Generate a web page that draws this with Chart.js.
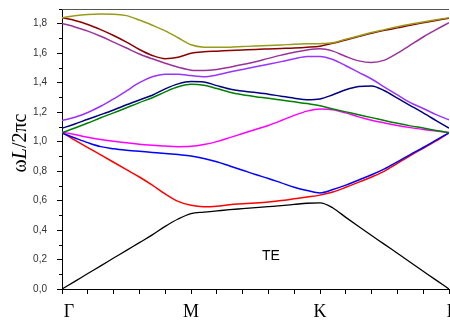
<!DOCTYPE html>
<html><head><meta charset="utf-8">
<script src="https://cdn.jsdelivr.net/npm/chart.js@4/dist/chart.umd.min.js"></script>
<style>html,body{margin:0;padding:0;background:#fff}canvas{display:block}</style>
</head><body>
<canvas id="c" width="450" height="323"></canvas>
<script>
// k-path positions (Γ=0, M=1, K=2, Γ=3)
const kPath = [0,0.1,0.2,0.3,0.4,0.5,0.6,0.7,0.8,0.9,1.0,1.1,1.2,1.3,1.4,1.5,1.6,1.7,1.8,1.9,2.0,2.1,2.2,2.3,2.4,2.5,2.6,2.7,2.8,2.9,3.0];
const symmetryPoints = [0,1,2,3];
const symmetryLabels = ['Γ','M','K','Γ'];
const yTickStep = 0.2;
const yMin = 0, yMax = 1.9;

// band frequencies ωL/2πc
const band1 = [0,0.052,0.105,0.157,0.21,0.262,0.315,0.367,0.425,0.475,0.512,0.522,0.53,0.538,0.545,0.552,0.559,0.566,0.574,0.582,0.584,0.55,0.486,0.424,0.363,0.303,0.242,0.182,0.121,0.06,0];
const band2 = [1.065,1.01,0.96,0.91,0.86,0.81,0.76,0.705,0.645,0.595,0.568,0.558,0.562,0.572,0.578,0.584,0.591,0.6,0.612,0.624,0.637,0.658,0.69,0.725,0.76,0.80,0.853,0.905,0.955,1.005,1.06];
const band3 = [1.058,1.025,0.993,0.966,0.952,0.942,0.934,0.927,0.92,0.912,0.903,0.886,0.864,0.835,0.806,0.777,0.75,0.72,0.69,0.668,0.652,0.675,0.705,0.74,0.775,0.815,0.863,0.912,0.96,1.01,1.06];
const band4 = [1.065,1.048,1.03,1.015,1.003,0.992,0.983,0.976,0.97,0.966,0.968,0.98,1.0,1.027,1.055,1.082,1.11,1.143,1.178,1.207,1.221,1.216,1.195,1.168,1.145,1.127,1.11,1.095,1.083,1.072,1.062];
const band5 = [1.06,1.092,1.126,1.162,1.195,1.23,1.265,1.298,1.338,1.372,1.39,1.383,1.36,1.335,1.318,1.305,1.294,1.282,1.27,1.258,1.243,1.222,1.202,1.182,1.163,1.143,1.124,1.107,1.092,1.076,1.06];
const band6 = [1.09,1.12,1.152,1.183,1.215,1.25,1.283,1.315,1.358,1.392,1.408,1.405,1.38,1.357,1.343,1.333,1.322,1.308,1.295,1.285,1.29,1.318,1.352,1.374,1.378,1.345,1.295,1.245,1.195,1.143,1.091];
const band7 = [1.143,1.165,1.198,1.24,1.29,1.345,1.4,1.44,1.458,1.458,1.448,1.44,1.452,1.472,1.49,1.508,1.525,1.543,1.562,1.577,1.578,1.557,1.515,1.47,1.425,1.37,1.317,1.265,1.225,1.183,1.148];
const band8 = [1.802,1.778,1.75,1.715,1.675,1.635,1.595,1.562,1.532,1.505,1.485,1.482,1.489,1.505,1.523,1.542,1.565,1.587,1.607,1.622,1.63,1.614,1.578,1.548,1.537,1.553,1.6,1.655,1.71,1.76,1.807];
const band9 = [1.841,1.822,1.795,1.76,1.72,1.675,1.625,1.585,1.563,1.572,1.6,1.61,1.614,1.618,1.622,1.626,1.629,1.632,1.635,1.64,1.648,1.668,1.69,1.713,1.735,1.755,1.772,1.79,1.806,1.822,1.838];
const band10 = [1.841,1.855,1.863,1.866,1.865,1.855,1.825,1.79,1.752,1.705,1.657,1.641,1.64,1.641,1.645,1.649,1.652,1.656,1.661,1.664,1.665,1.671,1.695,1.717,1.74,1.76,1.78,1.797,1.812,1.827,1.841];
const polarization = 'TE';

const toXY = arr => arr.map((v,i)=>({x:kPath[i], y:v}));
const mk = (arr, color, w) => ({data: toXY(arr), borderColor: color, borderWidth: w || 1.5, pointRadius: 0, fill: false, cubicInterpolationMode: 'monotone'});

const decor = {
  id: 'decor',
  afterDraw(chart){
    const {ctx, chartArea: a, scales: {x, y}} = chart;
    ctx.save();
    ctx.lineWidth = 1;
    ctx.strokeStyle = '#555';
    ctx.beginPath(); ctx.moveTo(a.left, Math.round(a.top)+0.5); ctx.lineTo(a.right, Math.round(a.top)+0.5); ctx.stroke();
    ctx.strokeStyle = '#000';
    for (let v = yTickStep/2; v < yMax; v += yTickStep){
      const py = Math.round(y.getPixelForValue(v)) + 0.5;
      ctx.beginPath(); ctx.moveTo(a.left-3, py); ctx.lineTo(a.left, py); ctx.stroke();
    }
    ctx.fillStyle = '#000';
    ctx.font = '18px "Liberation Serif"';
    ctx.textAlign = 'center'; ctx.textBaseline = 'alphabetic';
    const offs = [7, 0, 0, 3];
    symmetryPoints.forEach((p,i)=>ctx.fillText(symmetryLabels[i], x.getPixelForValue(p)+offs[i], 317));
    ctx.font = '14px "Liberation Sans"'; ctx.textAlign = 'left';
    ctx.fillText(polarization, x.getPixelForValue(1.55), y.getPixelForValue(0.2));
    // y title with italic L
    const parts = [['ω','20px "Liberation Serif"'],['L','italic 20px "Liberation Serif"'],['/2πc','20px "Liberation Serif"']];
    let tot = 0; parts.forEach(p=>{ctx.font=p[1]; tot += ctx.measureText(p[0]).width;});
    ctx.translate(26, 143); ctx.rotate(-Math.PI/2);
    ctx.textAlign = 'left';
    let cx = -tot/2;
    parts.forEach(p=>{ctx.font=p[1]; ctx.fillText(p[0], cx, 0); cx += ctx.measureText(p[0]).width;});
    ctx.restore();
  }
};

new Chart(document.getElementById('c'), {
  type: 'line',
  data: { datasets: [
    mk(band10, '#9a9a1a'),
    mk(band9, '#8b0000'),
    mk(band8, '#993399'),
    mk(band7, '#9933ff'),
    mk(band6, '#000080'),
    mk(band5, '#008000'),
    mk(band4, '#ff00ff'),
    mk(band3, '#0000ff'),
    mk(band2, '#ff0000'),
    mk(band1, '#000000', 1.3)
  ]},
  options: {
    responsive: false, animation: false,
    layout: { padding: { top: 9, right: 1, left: 0, bottom: 0 } },
    plugins: { legend: { display: false }, tooltip: { enabled: false } },
    scales: {
      x: {
        type: 'linear', min: 0, max: 3,
        grid: { display: true, drawOnChartArea: false, drawTicks: true, tickLength: 5, color: '#000' },
        border: { display: true, color: '#000', width: 1 },
        ticks: { stepSize: 0.2, autoSkip: false, maxTicksLimit: 100, callback: () => '' , font: {size: 1}},
        afterFit: s => { s.height = 34; s.paddingLeft = 0; s.paddingRight = 0; }
      },
      y: {
        min: yMin, max: yMax,
        grid: { display: true, drawOnChartArea: false, drawTicks: true, tickLength: 5, color: '#000' },
        border: { display: true, color: '#000', width: 1 },
        ticks: { stepSize: yTickStep, includeBounds: false, padding: 10, color: '#333',
          font: { family: '"Liberation Sans"', size: 10 },
          callback: v => Number(v).toFixed(1).replace('.', ',') },
        afterFit: s => { s.width = 62; s.paddingTop = 0; s.paddingBottom = 0; }
      }
    }
  },
  plugins: [decor]
});
</script>
</body></html>
